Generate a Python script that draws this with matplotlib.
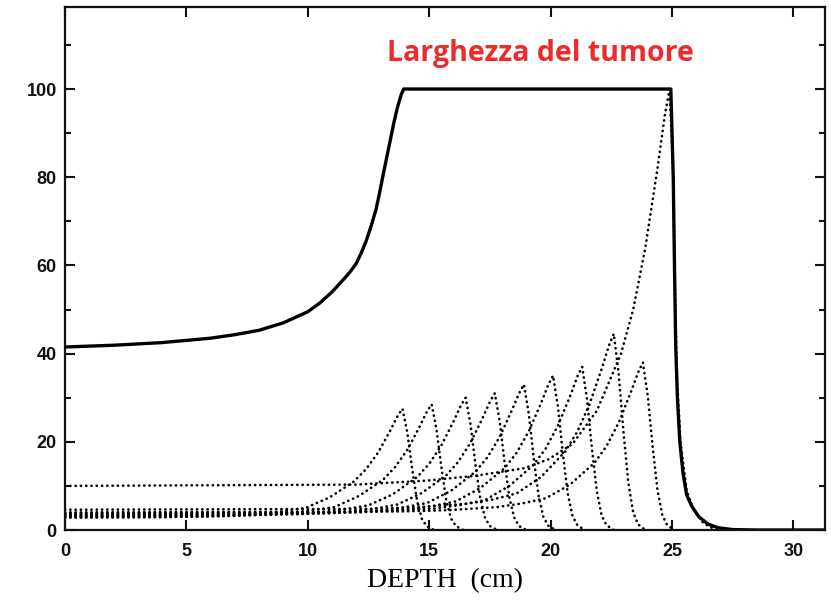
import matplotlib.pyplot as plt
from matplotlib.ticker import MultipleLocator

# SOBP (solid line): depth in cm, relative dose
sobp_depth = [0, 2, 4, 6, 7, 8, 9, 10, 10.5, 11, 11.5, 11.75, 12, 12.2, 12.4, 12.6, 12.8, 12.95, 13.1,
              13.25, 13.4, 13.55, 13.7, 13.85, 13.95,
              24.95, 25.05, 25.1, 25.15, 25.22, 25.32, 25.45, 25.6, 25.8, 26.1, 26.5, 26.9, 27.5, 28.5, 31.3]
sobp_dose = [41.5, 41.9, 42.5, 43.5, 44.3, 45.3, 47, 49.5, 51.5, 54, 57, 58.6, 60.5, 62.8, 65.5, 68.8, 72.5, 76.3, 80.5,
             84.5, 88.5, 92.5, 96, 98.8, 100,
             100, 80, 60, 42, 30, 20, 13, 8, 5.5, 3, 1.3, 0.5, 0.1, 0, 0]

# single Bragg peaks (dotted lines)
peak1_depth = [0, 3.9, 5.9, 7.9, 8.9, 9.9, 10.9, 11.9, 12.4, 12.9, 13.4, 13.7, 13.9, 14.1, 14.3, 14.5, 14.7, 14.9, 15.2]
peak1_dose = [2.8, 2.9, 3.1, 3.6, 4.2, 5.0, 7.4, 11.0, 13.8, 17.6, 22.6, 25.9, 27.5, 22.0, 13.8, 6.6, 2.5, 0.8, 0]

peak2_depth = [0, 5.1, 7.1, 9.1, 10.1, 11.1, 12.1, 13.1, 13.6, 14.1, 14.6, 14.9, 15.1, 15.3, 15.5, 15.7, 15.9, 16.1, 16.4]
peak2_dose = [2.9, 3.0, 3.2, 3.8, 4.4, 5.2, 7.7, 11.4, 14.3, 18.2, 23.4, 26.8, 28.5, 22.8, 14.3, 6.8, 2.6, 0.9, 0]

peak3_depth = [0, 6.5, 8.5, 10.5, 11.5, 12.5, 13.5, 14.5, 15.0, 15.5, 16.0, 16.3, 16.5, 16.7, 16.9, 17.1, 17.3, 17.5, 17.8]
peak3_dose = [3.1, 3.3, 3.5, 4.0, 4.7, 5.6, 8.1, 12.0, 15.0, 19.2, 24.6, 28.2, 30.0, 24.0, 15.0, 7.2, 2.7, 0.9, 0]

peak4_depth = [0, 7.7, 9.7, 11.7, 12.7, 13.7, 14.7, 15.7, 16.2, 16.7, 17.2, 17.5, 17.7, 17.9, 18.1, 18.3, 18.5, 18.7, 19.0]
peak4_dose = [3.2, 3.4, 3.6, 4.2, 4.8, 5.8, 8.4, 12.4, 15.5, 19.8, 25.4, 29.1, 31.0, 24.8, 15.5, 7.4, 2.8, 0.9, 0]

peak5_depth = [0, 8.9, 10.9, 12.9, 13.9, 14.9, 15.9, 16.9, 17.4, 17.9, 18.4, 18.7, 18.9, 19.1, 19.3, 19.5, 19.7, 19.9, 20.2]
peak5_dose = [3.4, 3.6, 3.8, 4.4, 5.1, 6.1, 8.9, 13.2, 16.5, 21.1, 27.1, 31.0, 33.0, 26.4, 16.5, 7.9, 3.0, 1.0, 0]

peak6_depth = [0, 10.1, 12.1, 14.1, 15.1, 16.1, 17.1, 18.1, 18.6, 19.1, 19.6, 19.9, 20.1, 20.3, 20.5, 20.7, 20.9, 21.1, 21.4]
peak6_dose = [3.6, 3.8, 4.0, 4.7, 5.4, 6.5, 9.5, 14.0, 17.5, 22.4, 28.7, 32.9, 35.0, 28.0, 17.5, 8.4, 3.2, 1.1, 0]

peak7_depth = [0, 11.3, 13.3, 15.3, 16.3, 17.3, 18.3, 19.3, 19.8, 20.3, 20.8, 21.1, 21.3, 21.5, 21.7, 21.9, 22.1, 22.3, 22.6]
peak7_dose = [3.8, 4.0, 4.3, 4.9, 5.7, 6.8, 10.0, 14.8, 18.5, 23.7, 30.3, 34.8, 37.0, 29.6, 18.5, 8.9, 3.3, 1.1, 0]

peak8_depth = [0, 12.6, 14.6, 16.6, 17.6, 18.6, 19.6, 20.6, 21.1, 21.6, 22.1, 22.4, 22.6, 22.8, 23.0, 23.2, 23.4, 23.6, 23.9]
peak8_dose = [4.6, 4.8, 5.2, 6.0, 6.9, 8.3, 12.0, 17.8, 22.3, 28.5, 36.5, 41.8, 44.5, 35.6, 22.3, 10.7, 4.0, 1.3, 0]

peak9_depth = [0, 13.8, 15.8, 17.8, 18.8, 19.8, 20.8, 21.8, 22.3, 22.8, 23.3, 23.6, 23.8, 24.0, 24.2, 24.4, 24.6, 24.8, 25.1]
peak9_dose = [4.0, 4.2, 4.5, 5.2, 6.0, 7.2, 10.3, 15.2, 19.0, 24.3, 31.2, 35.7, 38.0, 30.4, 19.0, 9.1, 3.4, 1.1, 0]

peak10_depth = [0, 12.0, 14.9, 16.9, 18.9, 19.9, 20.9, 21.9, 22.9, 23.4, 23.9, 24.4, 24.7, 24.9,
                25.05, 25.12, 25.2, 25.35, 25.6, 25.9, 26.3, 26.8]
peak10_dose = [10, 10.3, 11.2, 12.3, 14, 16, 19.5, 27, 40, 50, 64, 82, 94, 100,
               80, 55, 35, 20, 9, 4.5, 1.5, 0]

peaks = [
    (peak1_depth, peak1_dose), (peak2_depth, peak2_dose), (peak3_depth, peak3_dose),
    (peak4_depth, peak4_dose), (peak5_depth, peak5_dose), (peak6_depth, peak6_dose),
    (peak7_depth, peak7_dose), (peak8_depth, peak8_dose), (peak9_depth, peak9_dose),
    (peak10_depth, peak10_dose),
]

fig = plt.figure(figsize=(8.31, 6.09), dpi=100)
ax = fig.add_axes([0.0782, 0.1297, 0.9146, 0.8588])

for d, v in peaks:
    ax.plot(d, v, color='black', linewidth=1.9, linestyle=(0, (0.1, 1.9)),
            dash_capstyle='round')
ax.plot(sobp_depth, sobp_dose, color='black', linewidth=2.4, solid_joinstyle='round')

ax.set_xlim(0, 31.3)
ax.set_ylim(0, 118.6)
ax.xaxis.set_major_locator(MultipleLocator(5))
ax.yaxis.set_major_locator(MultipleLocator(20))
ax.yaxis.set_minor_locator(MultipleLocator(10))
ax.tick_params(which='both', direction='in', top=True, right=True, width=1.5, colors='#111111')
ax.tick_params(which='major', length=7)
ax.tick_params(which='minor', length=4)
ax.tick_params(axis='x', pad=9)
ax.tick_params(axis='y', pad=6)
for lab in ax.get_xticklabels() + ax.get_yticklabels():
    lab.set_fontfamily('Liberation Sans')
    lab.set_fontweight('bold')
    lab.set_fontsize(13)
for s in ax.spines.values():
    s.set_linewidth(1.6)
    s.set_color('#111111')

ax.set_xlabel('DEPTH  (cm)', fontfamily='Liberation Serif', fontsize=20, labelpad=6)

ax.text(19.57, 106.4, 'Larghezza del tumore', color='#ee2b2b', fontfamily='Open Sans',
        fontweight='bold', fontsize=20.5, ha='center', va='baseline')

fig.savefig('out.png', dpi=100)
